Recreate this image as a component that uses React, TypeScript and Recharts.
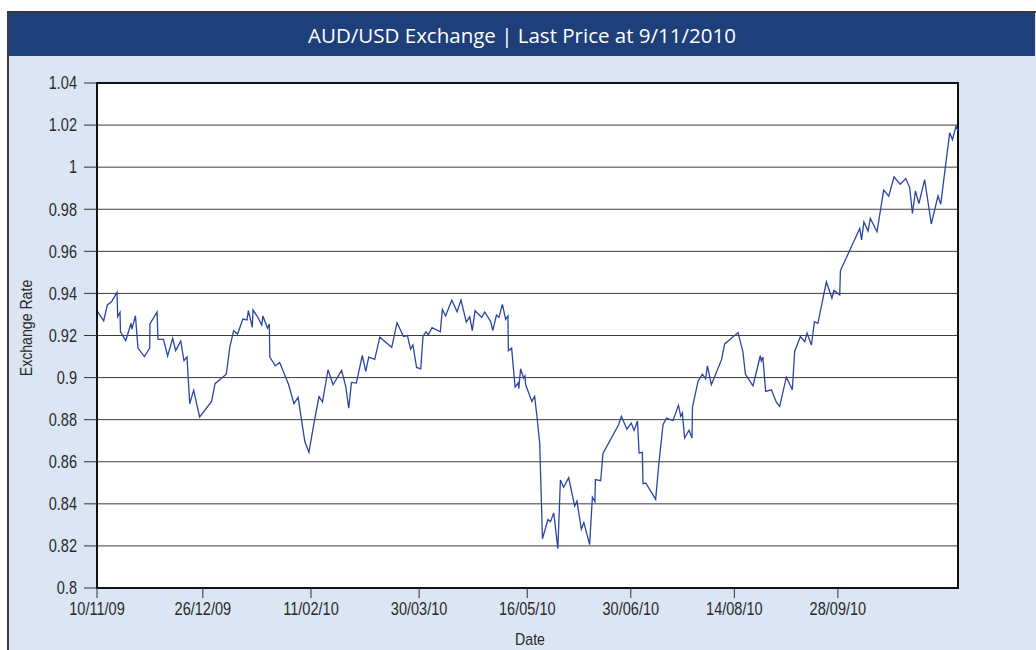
import React from "react";
import {
  CartesianGrid,
  Line,
  LineChart,
  ReferenceArea,
  XAxis,
  YAxis,
} from "recharts";

// days since 10/11/09
const days = [
  0, 2.9, 4.5, 6.3, 8.7, 9.0, 10.0, 10.2, 12.5, 14.8, 15.2, 16.7, 17.8, 20.6,
  22.9, 23.0, 26.1, 26.5, 28.9, 30.7, 32.9, 34.2, 36.4, 37.8, 39.1, 40.3, 42.0,
  44.6, 49.8, 51.3, 54.1, 56.2, 57.7, 59.4, 61.1, 63.4, 65.2, 65.8, 67.5, 67.8,
  69.7, 71.6, 72.1, 74.1, 74.9, 75.1, 77.5, 79.4, 83.3, 85.6, 87.4, 90.3, 92.1,
  94.4, 96.5, 98.0, 100.4, 102.6, 106.3, 108.1, 109.4, 110.6, 112.7, 115.3,
  116.8, 118.1, 120.7, 122.9, 128.1, 130.4, 133.2, 134.9, 136.3, 137.3, 138.9,
  140.7, 141.7, 143.0, 144.0, 145.6, 149.2, 150.1, 151.5, 154.2, 156.5, 158.2,
  160.5, 162.0, 163.1, 164.3, 167.2, 168.5, 171.1, 172.0, 173.6, 174.7, 176.2,
  177.6, 178.6, 178.8, 180.2, 181.7, 183.0, 183.3, 184.1, 185.4, 186.0, 186.3,
  189.0, 190.2, 191.2, 192.4, 193.6, 196.0, 197.1, 198.5, 200.3, 201.4, 202.8,
  205.0, 207.6, 208.6, 210.5, 211.6, 214.1, 215.3, 216.4, 216.6, 218.9, 219.9,
  226.7, 227.9, 230.3, 232.2, 233.4, 234.9, 235.6, 237.0, 237.3, 238.5, 242.8,
  244.2, 246.0, 247.5, 250.3, 252.7, 253.7, 254.4, 255.4, 257.3, 258.6, 258.8,
  261.2, 263.1, 264.5, 265.3, 267.0, 271.4, 272.8, 278.6, 280.7, 281.8, 285.1,
  288.3, 288.7, 289.4, 290.6, 293.1, 295.3, 296.7, 299.6, 302.2, 303.2, 305.7,
  307.6, 308.6, 310.5, 311.8, 313.3, 317.0, 319.4, 320.3, 322.8, 323.1, 331.5,
  332.3, 333.3, 335.1, 336.1, 339.0, 341.9, 344.1, 346.4, 349.1, 351.5, 353.2,
  354.4, 355.7, 357.2, 359.7, 362.6, 365.5, 366.7, 368.9, 370.6, 371.8, 373.3,
  374.2,
];

const rates = [
  0.9318, 0.927, 0.9345, 0.936, 0.9405, 0.929, 0.931, 0.9218, 0.9176, 0.9258,
  0.923, 0.9294, 0.914, 0.91, 0.914, 0.9255, 0.9312, 0.9182, 0.9182, 0.9103,
  0.9187, 0.9128, 0.9174, 0.908, 0.9098, 0.8876, 0.8939, 0.8813, 0.8887, 0.8971,
  0.8997, 0.9016, 0.9144, 0.9223, 0.9207, 0.9278, 0.9274, 0.9318, 0.9239, 0.9321,
  0.929, 0.925, 0.9293, 0.9234, 0.9255, 0.9097, 0.9056, 0.9072, 0.8966, 0.8876,
  0.8906, 0.8697, 0.8645, 0.879, 0.891, 0.8884, 0.9037, 0.8966, 0.9034, 0.8958,
  0.8855, 0.8977, 0.8974, 0.9105, 0.9029, 0.9097, 0.9087, 0.9192, 0.9144, 0.9261,
  0.9195, 0.92, 0.9135, 0.9155, 0.9048, 0.9041, 0.9198, 0.9217, 0.9203, 0.9237,
  0.9218, 0.9324, 0.9293, 0.9368, 0.9313, 0.9368, 0.9264, 0.9289, 0.9223, 0.9318,
  0.9286, 0.9312, 0.9266, 0.9223, 0.9297, 0.9286, 0.9348, 0.9277, 0.9293, 0.9128,
  0.914, 0.8955, 0.8974, 0.8947, 0.9042, 0.8997, 0.9008, 0.8966, 0.8887, 0.8911,
  0.8816, 0.8689, 0.8234, 0.8326, 0.8315, 0.8357, 0.8187, 0.8513, 0.8479, 0.8524,
  0.8389, 0.8413, 0.8279, 0.8311, 0.8206, 0.8432, 0.8411, 0.8515, 0.851, 0.8639,
  0.8776, 0.8816, 0.8755, 0.8784, 0.8749, 0.8794, 0.8642, 0.8645, 0.8496, 0.8499,
  0.8421, 0.8592, 0.8776, 0.8808, 0.8795, 0.8868, 0.8816, 0.8832, 0.8713, 0.875,
  0.8713, 0.886, 0.8982, 0.9016, 0.8994, 0.9056, 0.8966, 0.9084, 0.916, 0.9214,
  0.9124, 0.9016, 0.8961, 0.9105, 0.9079, 0.9097, 0.8934, 0.8942, 0.8882, 0.8863,
  0.9002, 0.8942, 0.9124, 0.9195, 0.9171, 0.9211, 0.9155, 0.9266, 0.9258, 0.9455,
  0.9377, 0.9414, 0.9393, 0.9508, 0.9709, 0.9654, 0.974, 0.9696, 0.9756, 0.9693,
  0.9891, 0.9862, 0.9954, 0.9919, 0.9946, 0.9903, 0.978, 0.9887, 0.9827, 0.9941,
  0.973, 0.9864, 0.9824, 1.0017, 1.0164, 1.0131, 1.0194, 1.0175,
];

const xTickDays = [0, 46, 93, 140, 187, 232, 277, 322];
const xTickLabels = [
  "10/11/09",
  "26/12/09",
  "11/02/10",
  "30/03/10",
  "16/05/10",
  "30/06/10",
  "14/08/10",
  "28/09/10",
];
const yTicks = [0.8, 0.82, 0.84, 0.86, 0.88, 0.9, 0.92, 0.94, 0.96, 0.98, 1, 1.02, 1.04];

const data = days.map((d, i) => ({ day: d, rate: rates[i] }));

// condensed look: Liberation Sans squeezed horizontally
const FONT = '"Liberation Sans", Arial, sans-serif';
const SQUEEZE = 0.83;
const TEXT = "#2a2a2a";

function XTick({ x, y, payload }: any) {
  return (
    <g transform={`translate(${x},${y})`}>
      <text
        transform={`scale(${SQUEEZE},1)`}
        textAnchor="middle"
        dy="0.71em"
        fontFamily={FONT}
        fontSize={17.5}
        fill={TEXT}
      >
        {xTickLabels[xTickDays.indexOf(payload.value)]}
      </text>
    </g>
  );
}

function YTick({ x, y, payload }: any) {
  return (
    <g transform={`translate(${x},${y})`}>
      <text
        transform={`scale(${SQUEEZE},1)`}
        textAnchor="end"
        dy="0.36em"
        fontFamily={FONT}
        fontSize={17.5}
        fill={TEXT}
      >
        {String(Number(payload.value.toFixed(2)))}
      </text>
    </g>
  );
}

const labelStyle: React.CSSProperties = {
  position: "absolute",
  whiteSpace: "nowrap",
  fontFamily: FONT,
  fontSize: 17,
  color: TEXT,
};

export default function App() {
  return (
    <div
      style={{
        position: "absolute",
        left: 0,
        top: 0,
        width: 1036,
        height: 650,
        overflow: "hidden",
        background: "#fff",
      }}
    >
      <div
        style={{
          position: "absolute",
          left: 7,
          top: 11,
          width: 1040,
          height: 660,
          boxSizing: "border-box",
          border: "2px solid #3a3a3a",
          background: "#dce5f3",
        }}
      >
        <div
          style={{
            width: 1026,
            height: 43,
            background: "#1e3f7a",
            color: "#fff",
            fontFamily: '"Open Sans", "Noto Sans", sans-serif',
            fontSize: 20.5,
            lineHeight: "45px",
            textAlign: "center",
          }}
        >
          AUD/USD Exchange | Last Price at 9/11/2010
        </div>
      </div>

      <LineChart
        width={1036}
        height={650}
        data={data}
        margin={{ top: 83, right: 78, left: 0, bottom: 0 }}
        style={{ position: "absolute", left: 0, top: 0 }}
      >
        <CartesianGrid vertical={false} stroke="#3c3c3c" fill="#fff" />
        <XAxis
          type="number"
          dataKey="day"
          domain={[0, "dataMax"]}
          ticks={xTickDays}
          height={62}
          tickSize={10}
          tickMargin={5}
          tick={<XTick />}
          tickLine={{ stroke: "#333" }}
          axisLine={{ stroke: "#111", strokeWidth: 2 }}
        />
        <YAxis
          type="number"
          domain={[0.8, 1.04]}
          ticks={yTicks}
          interval={0}
          width={97}
          tickSize={13}
          tickMargin={7}
          tick={<YTick />}
          tickLine={{ stroke: "#333" }}
          axisLine={{ stroke: "#111", strokeWidth: 2 }}
        />
        <ReferenceArea
          x1={0}
          x2={days[days.length - 1]}
          y1={0.8}
          y2={1.04}
          fill="none"
          stroke="#111"
          strokeWidth={2}
          ifOverflow="visible"
        />
        <Line
          type="linear"
          dataKey="rate"
          stroke="#2b46a2"
          strokeWidth={1.3}
          dot={false}
          isAnimationActive={false}
        />
      </LineChart>

      <div
        style={{
          ...labelStyle,
          left: 27,
          top: 328,
          transform: `translate(-50%, -50%) rotate(-90deg) scaleX(${SQUEEZE})`,
        }}
      >
        Exchange Rate
      </div>
      <div
        style={{
          ...labelStyle,
          left: 530,
          top: 640,
          transform: `translate(-50%, -50%) scaleX(${SQUEEZE})`,
        }}
      >
        Date
      </div>
    </div>
  );
}
